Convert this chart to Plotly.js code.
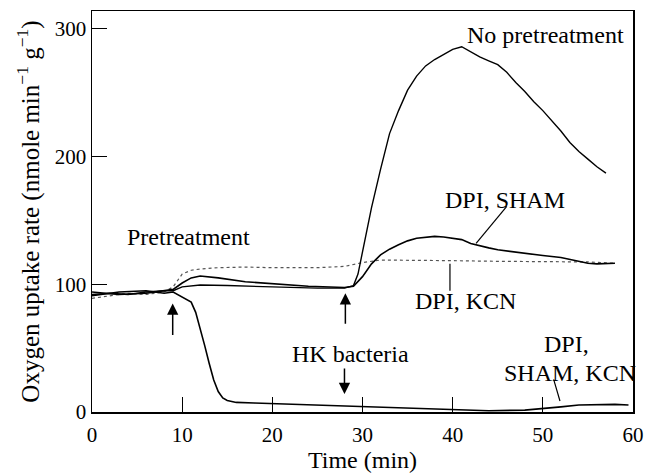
<!DOCTYPE html>
<html>
<head>
<meta charset="utf-8">
<script src="https://cdn.plot.ly/plotly-3.0.1.min.js"></script>
<style>html,body{margin:0;padding:0;background:#fff;}#chart{width:653px;height:475px;}</style>
</head>
<body>
<div id="chart"></div>
<script>
// Time (min) and oxygen uptake rate (nmole min^-1 g^-1)
var tNoPre = [0,2,4,6,8,9,10,12,15,20,25,28,29,29.5,30,31,32,33,34,35,36,37,38,39,40,41,42,43,44,45,46,47,48,49,50,51,52,53,54,55,56,57];
var yNoPre = [92,93,92,94,95,95,98,99.5,99,98,97,97,99,108,125,160,190,218,236,252,263,271,276,280,284,286,282,278,275,272,266,258,251,243,236,228,220,211,204,198,192,187];

var tDpiSham = [0,3,6,8,9,10,11,12,14,17,20,24,28,29,30,31,32,33,34,35,36,37,38,39,40,41,42,43,44,45,46,47,48,50,52,54,55,56,57,58];
var yDpiSham = [94,92,93,95,96,101,105,106.5,105,102,100.5,98.5,97.5,98.5,106,116,123,127.5,131,134,136,137,137.5,137,136,135,132,130,128.5,127,126,125,124,122.5,121,118,116.5,116,116,116.5];

var tDpiKcn = [0,2,4,6,8,9,10,11,12,14,17,20,25,28,30,32,35,38,40,45,50,55,58];
var yDpiKcn = [89,91,93,92,94,98,108,111,112,113,113.5,113,113,114,117,119,119,119,118.5,118,118,117.5,116.5];

var tDpiShamKcn = [0,3,6,8,9,10,11,11.5,12,12.5,13,13.5,14,14.5,15,16,18,20,24,28,30,34,38,40,44,48,50,52,54,56,58,59.5];
var yDpiShamKcn = [91,94,95,93,94,90,86,78,66,52,38,25,16,11,9,7.5,7,6.5,6,5,4.5,3.5,2.5,1.5,1,1.5,2.5,4,5.5,6,6,5.5];

var xTicks = [0,10,20,30,40,50,60];
var yTicks = [0,100,200,300];

var FONT = "Liberation Serif, Times New Roman, serif";

var traces = [
  {x:tDpiKcn, y:yDpiKcn, mode:'lines', line:{color:'#555', width:1.2, dash:'dot'}, name:'DPI, KCN'},
  {x:tDpiShamKcn, y:yDpiShamKcn, mode:'lines', line:{color:'#000', width:1.6}, name:'DPI, SHAM, KCN'},
  {x:tDpiSham, y:yDpiSham, mode:'lines', line:{color:'#000', width:1.6}, name:'DPI, SHAM'},
  {x:tNoPre, y:yNoPre, mode:'lines', line:{color:'#000', width:1.4}, name:'No pretreatment'}
];

var annFont = {family:FONT, size:24, color:'#000'};
function arrow(x, y, ay) {
  return {x:x, y:y, text:'', showarrow:true, arrowhead:2, arrowsize:1.5, arrowwidth:1.5,
          arrowcolor:'#000', ax:0, ay:ay, standoff:0};
}
var layout = {
  width:653, height:475,
  margin:{l:92, r:20, t:11, b:63},
  paper_bgcolor:'#fff', plot_bgcolor:'#fff',
  showlegend:false,
  font:{family:FONT, size:21, color:'#000'},
  xaxis:{
    range:[0,60], tickvals:xTicks, ticktext:xTicks.map(String),
    ticks:'inside', ticklen:15, tickwidth:1.2, tickcolor:'#000',
    showline:true, mirror:true, linecolor:'#000', linewidth:1.5,
    showgrid:false, zeroline:false, ticklabelstandoff:3,
    tickfont:{family:FONT, size:21},
    title:{text:'Time (min)', font:{family:FONT, size:24}, standoff:4}
  },
  yaxis:{
    range:[0,314], tickvals:yTicks, ticktext:yTicks.map(String),
    ticks:'inside', ticklen:15, tickwidth:1.2, tickcolor:'#000',
    showline:true, mirror:true, linecolor:'#000', linewidth:1.5,
    showgrid:false, zeroline:false,
    tickfont:{family:FONT, size:21},
    title:{text:'Oxygen uptake rate (nmole min<sup>−1</sup> g<sup>−1</sup>)', font:{family:FONT, size:25}, standoff:8}
  },
  annotations:[
    {x:50.3, y:295, text:'No pretreatment', showarrow:false, font:annFont},
    {x:45.8, y:165.7, text:'DPI, SHAM', showarrow:false, font:annFont},
    {x:41.4, y:87.2, text:'DPI, KCN', showarrow:false, font:annFont},
    {x:10.7, y:136.7, text:'Pretreatment', showarrow:false, font:annFont},
    {x:28.7, y:45.6, text:'HK bacteria', showarrow:false, font:annFont},
    {x:52.6, y:53.2, text:'DPI,', showarrow:false, font:annFont},
    {x:53.0, y:30.6, text:'SHAM, KCN', showarrow:false, font:annFont},
    arrow(8.95, 85, 33),
    arrow(28.1, 93, 32),
    arrow(28.0, 14, -27)
  ],
  shapes:[
    {type:'line', xref:'x', yref:'y', x0:46.0, y0:161, x1:42.6, y1:132, line:{color:'#000', width:1.2}},
    {type:'line', xref:'x', yref:'y', x0:39.7, y0:116, x1:39.7, y1:95, line:{color:'#000', width:1.2}},
    {type:'line', xref:'x', yref:'y', x0:51.2, y0:25.5, x1:51.9, y1:8.6, line:{color:'#000', width:1.2}}
  ]
};

Plotly.newPlot('chart', traces, layout, {displayModeBar:false, staticPlot:true});
</script>
</body>
</html>
